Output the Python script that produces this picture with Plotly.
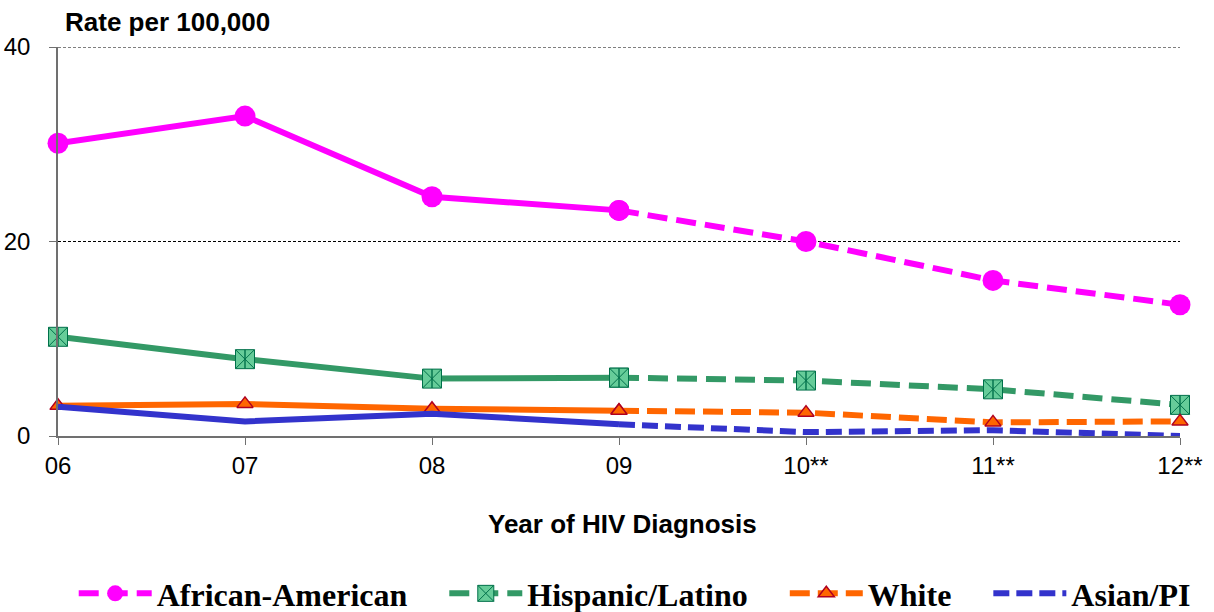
import plotly.graph_objects as go

years = ["06", "07", "08", "09", "10**", "11**", "12**"]
african_american = [30.1, 32.9, 24.6, 23.2, 20.0, 16.0, 13.5]
hispanic_latino = [10.2, 7.9, 5.9, 6.0, 5.7, 4.8, 3.2]
white = [3.1, 3.3, 2.8, 2.6, 2.4, 1.4, 1.5]
asian_pi = [3.0, 1.5, 2.3, 1.2, 0.4, 0.6, 0.0]
legend_names = ["African-American", "Hispanic/Latino", "White", "Asian/PI"]
n_solid = 4  # 06-09 solid, 09-12 dashed

xs = list(range(len(years)))
LW = 6
NB = "\u00a0"

series = [
    dict(name=legend_names[0], y=african_american, color="#FF00FF", dash="20px,9px",
         marker=dict(symbol="circle", size=21, color="#FF00FF", line=dict(width=0))),
    dict(name=legend_names[1], y=hispanic_latino, color="#339966", dash="20px,9px",
         marker=dict(symbol="square-x", size=19, color="#66CC99", line=dict(width=1, color="#00704A"))),
    dict(name=legend_names[2], y=white, color="#FF6600", dash="20px,8px",
         marker=dict(symbol="triangle-up", size=14, color="#FF6600", line=dict(width=1.5, color="#B00020"))),
    dict(name=legend_names[3], y=asian_pi, color="#3333CC", dash="16px,7px", marker=None),
]
label_text = [legend_names[0] + NB * 4, legend_names[1] + NB * 4,
              legend_names[2] + NB * 4, legend_names[3]]

fig = go.Figure()
for s, lab in zip(series, label_text):
    mode = "lines+markers" if s["marker"] else "lines"
    mk = s["marker"] if s["marker"] else {}
    fig.add_trace(go.Scatter(
        x=xs[:n_solid], y=s["y"][:n_solid], mode=mode, name=lab,
        line=dict(color=s["color"], width=LW), marker=mk, showlegend=False,
        cliponaxis=False, legendgroup=s["name"]))
    fig.add_trace(go.Scatter(
        x=xs[n_solid - 1:], y=s["y"][n_solid - 1:], mode=mode, name=lab,
        line=dict(color=s["color"], width=LW, dash=s["dash"]), marker=mk, showlegend=True,
        cliponaxis=False, legendgroup=s["name"]))
    if s["name"] == "Hispanic/Latino":
        fig.add_trace(go.Scatter(
            x=xs, y=s["y"], mode="markers", showlegend=False, hoverinfo="skip",
            marker=dict(symbol="line-ns-open", size=13.5, color="#00704A",
                        line=dict(width=1.4, color="#00704A")),
            cliponaxis=False))

shapes = [dict(type="line", xref="paper", yref="y", x0=0, x1=1, y0=g, y1=g,
               line=dict(color="black", width=1, dash="3px,2px"), layer="below")
          for g in [20, 40]]

fig.update_layout(
    width=1214, height=612,
    margin=dict(l=58, r=34, t=47, b=176, autoexpand=False),
    plot_bgcolor="white", paper_bgcolor="white",
    font=dict(family="Liberation Sans, Arial", size=24, color="black"),
    showlegend=True,
    legend=dict(orientation="h", x=1.014, xanchor="right", y=-0.405, yanchor="middle",
                font=dict(family="Liberation Serif, Times New Roman", size=32, color="black", weight="bold"),
                itemwidth=73, traceorder="normal"),
    xaxis=dict(range=[0, 6], tickvals=xs, ticktext=years, showgrid=False, zeroline=False,
               showline=True, linecolor="#707070", linewidth=1.5, ticks="outside",
               ticklen=7, tickcolor="#707070", tickfont=dict(size=24), automargin=False),
    yaxis=dict(range=[0, 40], tickvals=[0, 20, 40], showgrid=False, zeroline=False, showline=True,
               linecolor="#707070", linewidth=1.5, ticks="outside", ticklen=7,
               tickcolor="#707070", tickfont=dict(size=24), ticklabelstandoff=14,
               automargin=False),
    shapes=shapes,
    annotations=[
        dict(text="<b>Rate per 100,000</b>", xref="paper", yref="paper", x=0.0045, y=1.064,
             xanchor="left", yanchor="middle", showarrow=False, font=dict(size=26)),
        dict(text="<b>Year of HIV Diagnosis</b>", xref="paper", yref="paper", x=0.503, y=-0.226,
             xanchor="center", yanchor="middle", showarrow=False, font=dict(size=26)),
    ],
)

fig.write_html("out.html", config={"displayModeBar": False},
               post_script="document.body.style.margin='0';document.body.style.padding='0';"
                           "document.documentElement.style.overflow='hidden';")
